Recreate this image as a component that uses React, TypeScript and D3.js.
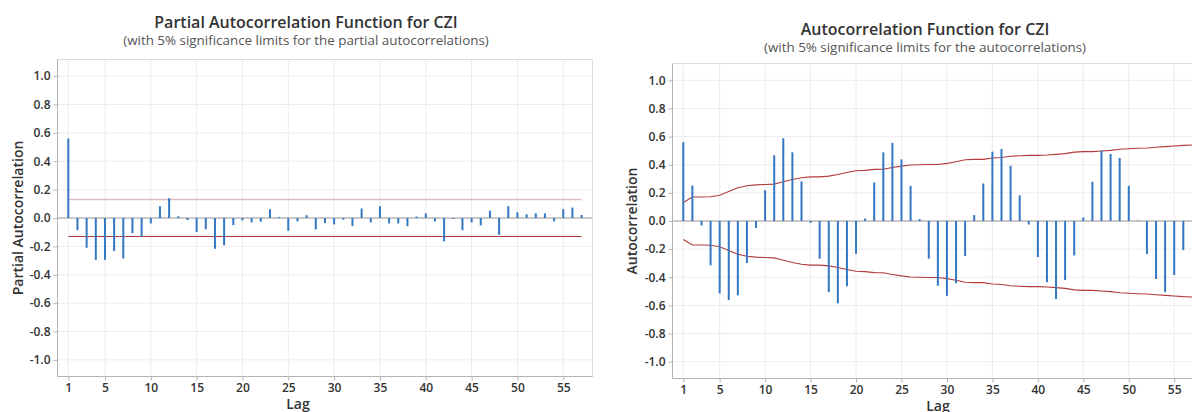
import * as d3 from "d3";
import React, { useEffect, useRef } from "react";

// lag numbers and the tick labels on the x axis
const lags = d3.range(1, 58);
const lagTicks = [1, 5, 10, 15, 20, 25, 30, 35, 40, 45, 50, 55];
const valueTicks = [1.0, 0.8, 0.6, 0.4, 0.2, 0.0, -0.2, -0.4, -0.6, -0.8, -1.0];

// partial autocorrelations, lags 1..57
const pacf = [
  0.56, -0.086, -0.21, -0.295, -0.295, -0.233, -0.285, -0.107, -0.131, -0.038,
  0.083, 0.14, 0.012, -0.014, -0.098, -0.079, -0.217, -0.193, -0.05, -0.017,
  -0.031, -0.026, 0.062, 0.007, -0.09, -0.024, 0.02, -0.081, -0.036, -0.045,
  -0.012, -0.057, 0.067, -0.031, 0.083, -0.038, -0.038, -0.057, 0.01, 0.033,
  -0.024, -0.164, -0.007, -0.086, -0.031, -0.052, 0.052, -0.119, 0.083, 0.04,
  0.026, 0.033, 0.033, -0.024, 0.062, 0.074, 0.021
];
const pacfLimit = 0.13;

// autocorrelations, lags 1..56 (57 is off the picture)
const acf = [
  0.56, 0.252, -0.032, -0.315, -0.515, -0.562, -0.529, -0.299, -0.049, 0.219,
  0.467, 0.588, 0.488, 0.281, -0.013, -0.268, -0.506, -0.586, -0.464, -0.233,
  0.018, 0.274, 0.488, 0.555, 0.438, 0.25, 0.014, -0.268, -0.461, -0.532,
  -0.442, -0.249, 0.042, 0.267, 0.493, 0.512, 0.393, 0.182, -0.025, -0.256,
  -0.435, -0.555, -0.42, -0.245, 0.025, 0.279, 0.5, 0.476, 0.448, 0.25,
  0.003, -0.235, -0.412, -0.506, -0.384, -0.207
];
// 5% limits for the autocorrelations, lags 1..57
const acfLimit = [
  0.131, 0.171, 0.171, 0.172, 0.183, 0.21, 0.236, 0.251, 0.257, 0.26,
  0.262, 0.279, 0.295, 0.307, 0.314, 0.314, 0.319, 0.331, 0.345, 0.357,
  0.36, 0.367, 0.368, 0.38, 0.39, 0.398, 0.4, 0.402, 0.402, 0.41,
  0.421, 0.436, 0.438, 0.438, 0.448, 0.452, 0.46, 0.464, 0.467, 0.467,
  0.469, 0.474, 0.479, 0.49, 0.493, 0.493, 0.498, 0.502, 0.51, 0.514,
  0.517, 0.519, 0.524, 0.529, 0.533, 0.538, 0.541
];

const FONT = "'Open Sans', 'Noto Sans', sans-serif";
const BAR = "#3377c2";
const LIMIT = "#b33a3a";

function drawPanel(svg, opt) {
  const g = svg.append("g");
  const x = d3.scaleLinear().domain([1, 57]).range([opt.lag1, opt.lag57]);
  const y = d3.scaleLinear().domain([-opt.ymax, opt.ymax]).range([opt.bottom, opt.top]);

  // frame + grid
  g.append("rect")
    .attr("x", opt.left).attr("y", opt.top)
    .attr("width", opt.right - opt.left).attr("height", opt.bottom - opt.top)
    .attr("fill", "white").attr("stroke", "#dcdcdc");

  g.selectAll(".gy").data(valueTicks).enter().append("line")
    .attr("x1", opt.left).attr("x2", opt.right)
    .attr("y1", (d) => y(d)).attr("y2", (d) => y(d))
    .attr("stroke", "#ececec");
  g.selectAll(".gx").data(lagTicks).enter().append("line")
    .attr("x1", (d) => x(d)).attr("x2", (d) => x(d))
    .attr("y1", opt.top).attr("y2", opt.bottom)
    .attr("stroke", "#ececec");

  // axes
  const yAxis = d3.axisLeft(y).tickValues(valueTicks).tickSize(4)
    .tickFormat((d) => d.toFixed(1));
  const ya = g.append("g").attr("transform", "translate(" + opt.left + ",0)").call(yAxis);
  const xAxis = d3.axisBottom(x).tickValues(lagTicks).tickSize(4);
  const xa = g.append("g").attr("transform", "translate(0," + opt.bottom + ")").call(xAxis);
  [ya, xa].forEach((a) => {
    a.select(".domain").attr("stroke", "#b4b4b4");
    a.selectAll(".tick line").attr("stroke", "#b4b4b4");
    a.selectAll("text")
      .attr("font-family", FONT).attr("font-size", 12).attr("font-weight", 600)
      .attr("fill", "#333");
  });
  ya.selectAll(".domain").attr("d", "M0," + opt.top + "V" + opt.bottom);
  xa.selectAll(".domain").attr("d", "M" + opt.left + ",0H" + opt.right);

  // zero line
  g.append("line")
    .attr("x1", opt.left).attr("x2", opt.right)
    .attr("y1", y(0)).attr("y2", y(0))
    .attr("stroke", "#9c9c9c");

  // significance limits
  const line = d3.line().x((d, i) => x(i + 1));
  if (Array.isArray(opt.limit)) {
    g.append("path").attr("d", line.y((d) => y(d))(opt.limit))
      .attr("fill", "none").attr("stroke", LIMIT).attr("stroke-width", 1.1);
    g.append("path").attr("d", line.y((d) => y(-d))(opt.limit))
      .attr("fill", "none").attr("stroke", LIMIT).attr("stroke-width", 1.1);
  } else {
    g.append("line")
      .attr("x1", x(1)).attr("x2", x(57))
      .attr("y1", y(opt.limit)).attr("y2", y(opt.limit))
      .attr("stroke", "#e2bcbc").attr("stroke-width", 1.6);
    g.append("line")
      .attr("x1", x(1)).attr("x2", x(57))
      .attr("y1", y(-opt.limit)).attr("y2", y(-opt.limit))
      .attr("stroke", LIMIT).attr("stroke-width", 1.1);
  }

  // bars
  g.selectAll(".bar").data(opt.values).enter().append("line")
    .attr("x1", (d, i) => x(lags[i])).attr("x2", (d, i) => x(lags[i]))
    .attr("y1", y(0)).attr("y2", (d) => y(d))
    .attr("stroke", BAR).attr("stroke-width", 2);

  // texts
  svg.append("text")
    .attr("x", opt.titleX).attr("y", opt.titleY)
    .attr("text-anchor", "middle")
    .attr("font-family", FONT).attr("font-size", 16).attr("font-weight", 600)
    .attr("fill", "#333")
    .text(opt.title);
  svg.append("text")
    .attr("x", opt.titleX).attr("y", opt.titleY + 17)
    .attr("text-anchor", "middle")
    .attr("font-family", FONT).attr("font-size", 13.4)
    .attr("fill", "#555")
    .text(opt.subtitle);
  svg.append("text")
    .attr("transform", "translate(" + opt.ylabX + "," + y(0) + ") rotate(-90)")
    .attr("text-anchor", "middle")
    .attr("font-family", FONT).attr("font-size", 14).attr("font-weight", 600)
    .attr("fill", "#333")
    .text(opt.ylab);
  svg.append("text")
    .attr("x", opt.lagX).attr("y", opt.lagY)
    .attr("text-anchor", "middle")
    .attr("font-family", FONT).attr("font-size", 14).attr("font-weight", 600)
    .attr("fill", "#333")
    .text("Lag");
}

export default function App() {
  const ref = useRef(null);

  useEffect(() => {
    const svg = d3.select(ref.current);
    svg.selectAll("*").remove();

    drawPanel(svg, {
      left: 57.5, right: 592.5, top: 59.5, bottom: 376.5,
      lag1: 68.3, lag57: 581.6, ymax: 1.117,
      values: pacf, limit: pacfLimit,
      title: "Partial Autocorrelation Function for CZI",
      subtitle: "(with 5% significance limits for the partial autocorrelations)",
      titleX: 306, titleY: 28, ylab: "Partial Autocorrelation", ylabX: 23,
      lagX: 298, lagY: 409
    });

    drawPanel(svg, {
      left: 672.5, right: 1210, top: 63.5, bottom: 378.5,
      lag1: 683.3, lag57: 1192.4, ymax: 1.12,
      values: acf, limit: acfLimit,
      title: "Autocorrelation Function for CZI",
      subtitle: "(with 5% significance limits for the autocorrelations)",
      titleX: 925, titleY: 35, ylab: "Autocorrelation", ylabX: 637,
      lagX: 938, lagY: 411
    });
  }, []);

  return (
    <div>
      <svg ref={ref} width={1192} height={412}
        style={{ position: "absolute", left: 0, top: 0, background: "white" }} />
    </div>
  );
}
